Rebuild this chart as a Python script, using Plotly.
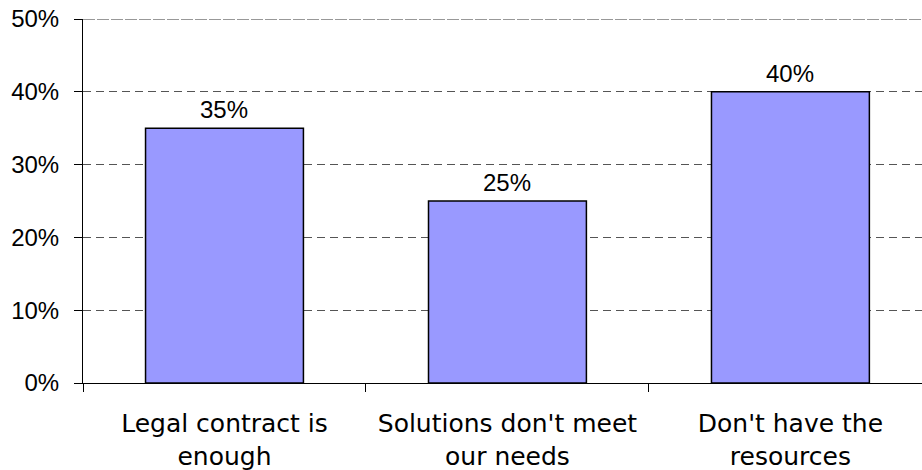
import plotly.graph_objects as go

# Survey answers and their shares (percent)
categories = [
    "Legal contract is<br>enough",
    "Solutions don't meet<br>our needs",
    "Don't have the<br>resources",
]
shares = [35, 25, 40]
y_ticks = [0, 10, 20, 30, 40, 50]
y_tick_labels = [f"{v}%" for v in y_ticks]

fig = go.Figure(
    go.Bar(
        x=categories,
        y=shares,
        marker=dict(color="#9999FF", line=dict(color="#000000", width=1.5)),
        width=0.558,
    )
)

# value labels above each bar
for cat, val in zip(categories, shares):
    fig.add_annotation(
        x=cat,
        y=val,
        text=f"{val}%",
        showarrow=False,
        yanchor="bottom",
        yshift=3,
        font=dict(family="Liberation Sans, Arial", size=24, color="#000000"),
    )

fig.update_layout(
    width=922,
    height=470,
    margin=dict(l=83, r=0, t=19, b=87),
    paper_bgcolor="#FFFFFF",
    plot_bgcolor="#FFFFFF",
    showlegend=False,
)

fig.update_xaxes(
    type="category",
    range=[-0.5, 2.465],
    tickson="boundaries",
    ticks="outside",
    ticklen=8,
    tickcolor="#000000",
    ticklabelstandoff=18,
    showline=True,
    linecolor="#000000",
    linewidth=1,
    showgrid=False,
    tickfont=dict(family="DejaVu Sans, Verdana", size=25, color="#000000"),
)

fig.update_yaxes(
    range=[0, 50],
    tickvals=y_ticks,
    ticktext=y_tick_labels,
    ticks="outside",
    ticklen=8,
    tickcolor="#000000",
    ticklabelstandoff=10,
    showline=True,
    linecolor="#000000",
    linewidth=1,
    showgrid=True,
    gridcolor="#555555",
    griddash="8px,5px",
    gridwidth=1,
    zeroline=False,
    tickfont=dict(family="Liberation Sans, Arial", size=24, color="#000000"),
)

# darker top boundary line at the axis maximum
fig.add_shape(
    type="line",
    xref="paper",
    yref="y",
    x0=0,
    x1=1,
    y0=50,
    y1=50,
    line=dict(color="#333333", width=1, dash="12px,2px"),
)

fig.write_html("out.html")
